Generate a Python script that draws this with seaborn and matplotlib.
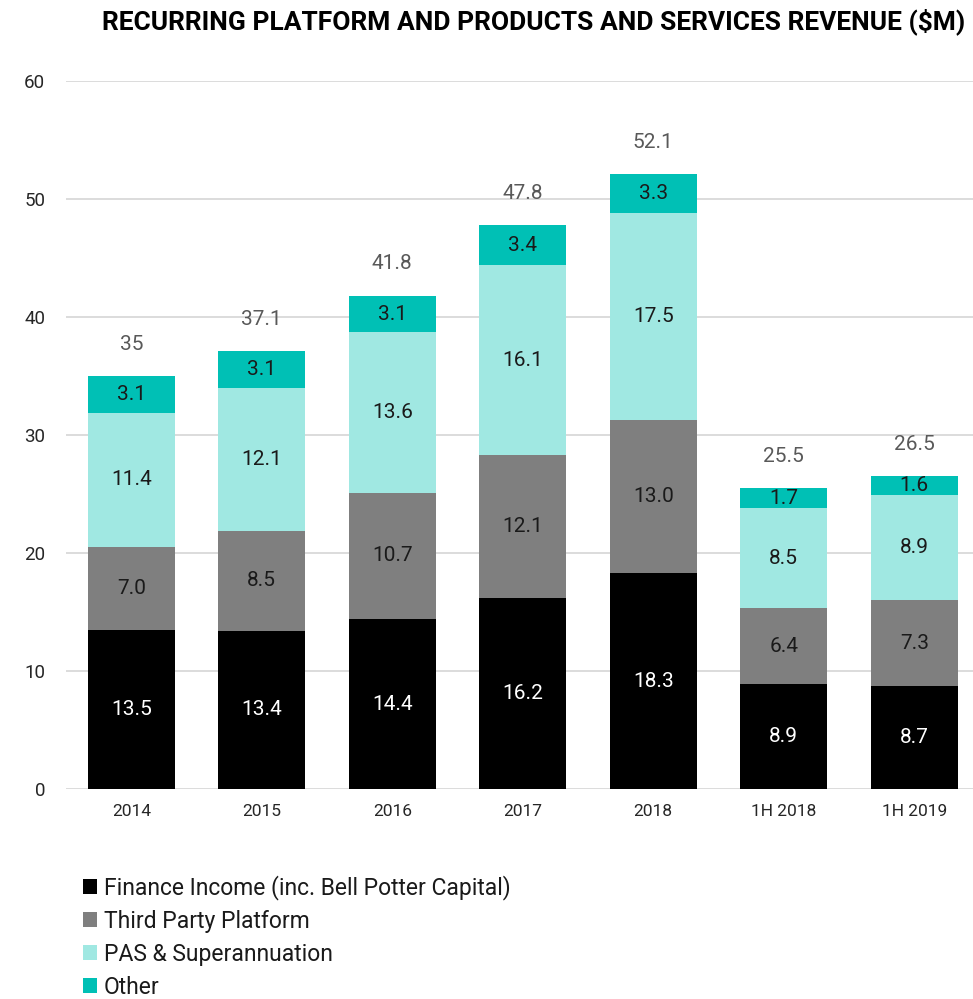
import matplotlib
matplotlib.use("Agg")
import matplotlib.pyplot as plt
from matplotlib.patches import Patch
import seaborn as sns
import pandas as pd
import numpy as np

periods = ["2014", "2015", "2016", "2017", "2018", "1H 2018", "1H 2019"]
finance_income = [13.5, 13.4, 14.4, 16.2, 18.3, 8.9, 8.7]
third_party = [7.0, 8.5, 10.7, 12.1, 13.0, 6.4, 7.3]
pas_super = [11.4, 12.1, 13.6, 16.1, 17.5, 8.5, 8.9]
other = [3.1, 3.1, 3.1, 3.4, 3.3, 1.7, 1.6]
totals = ["35", "37.1", "41.8", "47.8", "52.1", "25.5", "26.5"]

series_names = ["Finance Income (inc. Bell Potter Capital)", "Third Party Platform",
                "PAS & Superannuation", "Other"]
series_values = [finance_income, third_party, pas_super, other]
colors = ["#000000", "#7f7f7f", "#a0e8e2", "#00c0b5"]
label_colors = ["white", "#1a1a1a", "#1a1a1a", "#1a1a1a"]

sns.set_theme(style="white")
plt.rcParams["font.family"] = ["Roboto", "DejaVu Sans"]

df = pd.DataFrame({"period": periods})
stack = np.cumsum(np.array(series_values), axis=0)
for i, name in enumerate(series_names):
    df[name] = stack[i]

fig = plt.figure(figsize=(9.73, 9.99), dpi=100)
ax = fig.add_axes([66 / 973, 1 - 789 / 999, 1 - 66 / 973, (789 - 81) / 999])

# stacked bars: draw cumulative heights from the top series down
for i in reversed(range(len(series_names))):
    sns.barplot(data=df, x="period", y=series_names[i], color=colors[i],
                width=0.667, saturation=1, ax=ax, linewidth=0, zorder=3)

# segment value labels
for i, vals in enumerate(series_values):
    base = stack[i] - np.array(vals)
    for j, v in enumerate(vals):
        ax.text(j, base[j] + v / 2, f"{v:.1f}", ha="center", va="center",
                fontsize=15, color=label_colors[i], zorder=4)

# total labels above bars
for j, t in enumerate(totals):
    ax.annotate(t, (j, stack[-1][j]), xytext=(0, 23), textcoords="offset points",
                ha="center", va="center", fontsize=15, color="#595959")

ax.set_ylim(0, 60)
ax.set_xlim(-0.5, 6.45)
ax.set_yticks(range(0, 61, 10))
ax.yaxis.grid(True, color="#d9d9d9", linewidth=1.3, zorder=0)
ax.set_axisbelow(True)
for s in ax.spines.values():
    s.set_visible(False)
ax.set_xlabel("")
ax.set_ylabel("")
ax.tick_params(axis="y", length=0, pad=15, labelsize=13.5, labelcolor="#262626")
ax.tick_params(axis="x", length=0, pad=11, labelsize=12.5, labelcolor="#262626")

fig.text(534 / 973, 1 - 22 / 999, "RECURRING PLATFORM AND PRODUCTS AND SERVICES REVENUE ($M)",
         ha="center", va="center", fontsize=19, fontweight="bold", color="#000000")

handles = [Patch(facecolor=c, edgecolor="none") for c in colors]
fig.legend(handles, series_names, loc="upper left", bbox_to_anchor=(83 / 973, 1 - 875 / 999),
           frameon=False, fontsize=16.5, handlelength=0.62, handleheight=0.62,
           handletextpad=0.3, labelspacing=0.43, borderpad=0, borderaxespad=0,
           labelcolor="#1a1a1a")

fig.savefig("out.png", dpi=100)
